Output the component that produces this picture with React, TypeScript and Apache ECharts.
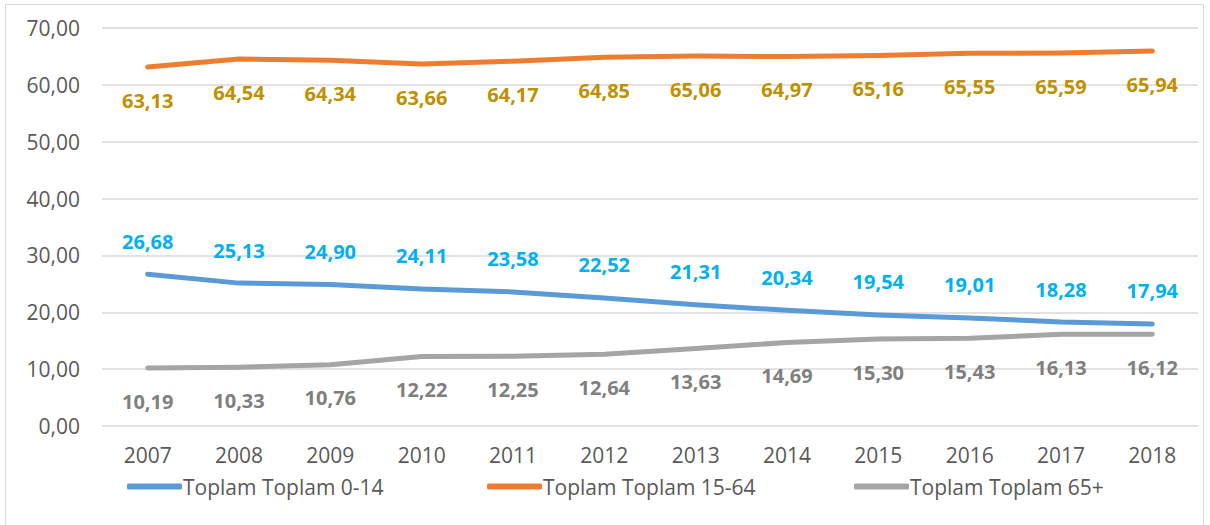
import React, { useEffect, useRef } from "react";
import * as echarts from "echarts";

const years = ["2007","2008","2009","2010","2011","2012","2013","2014","2015","2016","2017","2018"];
const age0to14 = [26.68,25.13,24.90,24.11,23.58,22.52,21.31,20.34,19.54,19.01,18.28,17.94];
const age15to64 = [63.13,64.54,64.34,63.66,64.17,64.85,65.06,64.97,65.16,65.55,65.59,65.94];
const age65plus = [10.19,10.33,10.76,12.22,12.25,12.64,13.63,14.69,15.30,15.43,16.13,16.12];
const seriesNames = ["Toplam Toplam 0-14","Toplam Toplam 15-64","Toplam Toplam 65+"];

const FONT = "'Open Sans', 'Noto Sans', sans-serif";
const fmt = (v: number) => v.toFixed(2).replace(".", ",");

export default function App() {
  const ref = useRef<HTMLDivElement>(null);
  useEffect(() => {
    const chart = echarts.init(ref.current!, null, { renderer: "svg" });
    const mk = (name: string, data: number[], color: string, labelColor: string, pos: string) => ({
      name,
      type: "line",
      data,
      showSymbol: true,
      symbol: "circle",
      symbolSize: 0,
      lineStyle: { width: 5, color, cap: "round", join: "round" },
      itemStyle: { color },
      label: {
        show: true,
        position: pos,
        distance: 23,
        color: labelColor,
        fontWeight: "bold",
        fontSize: 20,
        fontFamily: FONT,
        formatter: (p: any) => fmt(p.value),
      },
      labelLayout: { hideOverlap: false },
    });
    const legendBase = {
      bottom: 23,
      itemWidth: 55,
      itemHeight: 6,
      icon: "roundRect",
      textStyle: { color: "#595959", fontSize: 21, fontFamily: FONT, padding: [0, 0, 0, -4] },
    };
    chart.setOption({
      animation: false,
      color: ["#5B9BD5", "#ED7D31", "#A5A5A5"],
      graphic: [
        {
          type: "rect",
          shape: { x: 5.5, y: 4.5, width: 1198, height: 540 },
          style: { fill: "none", stroke: "#D9D9D9", lineWidth: 1 },
          silent: true,
        },
      ],
      grid: { left: 102, right: 12, top: 28, bottom: 99, containLabel: false },
      xAxis: {
        type: "category",
        data: years,
        boundaryGap: true,
        axisLine: { show: false },
        axisTick: { show: false },
        axisLabel: { color: "#595959", fontSize: 21, fontFamily: FONT, margin: 18 },
      },
      yAxis: {
        type: "value",
        min: 0,
        max: 70,
        interval: 10,
        axisLine: { show: false },
        axisTick: { show: false },
        splitLine: { lineStyle: { color: "#D9D9D9", width: 1.5 } },
        axisLabel: { color: "#595959", fontSize: 21, fontFamily: FONT, margin: 22, formatter: (v: number) => fmt(v) },
      },
      legend: [
        { ...legendBase, left: 122, data: [seriesNames[0]] },
        { ...legendBase, left: 482, data: [seriesNames[1]] },
        { ...legendBase, left: 849, data: [seriesNames[2]] },
      ],
      series: [
        mk(seriesNames[0], age0to14, "#5B9BD5", "#00B0F0", "top"),
        mk(seriesNames[1], age15to64, "#ED7D31", "#BF9000", "bottom"),
        mk(seriesNames[2], age65plus, "#A5A5A5", "#7F7F7F", "bottom"),
      ],
    });
    return () => chart.dispose();
  }, []);
  return <div ref={ref} style={{ width: 1210, height: 525, position: "absolute", left: 0, top: 0, background: "#fff" }} />;
}
